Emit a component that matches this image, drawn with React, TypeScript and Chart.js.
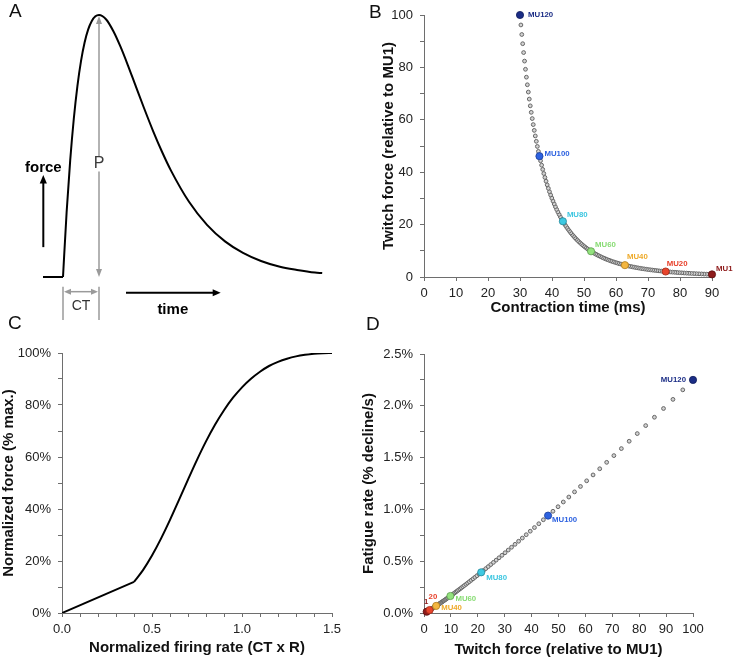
import React, { useEffect, useRef } from 'react';
import { Chart, registerables } from 'chart.js';

Chart.register(...registerables);

const FONT = '"Liberation Sans", Arial, Helvetica, sans-serif';
const AXIS_COLOR = '#6e6e6e';
const TICK_COLOR = '#222222';
const TITLE_COLOR = '#111111';

// ---------- Panel A : single twitch (normalized time t/CT, normalized force) ----------
const TWITCH_T = [0, 0.1, 0.2, 0.3, 0.4, 0.5, 0.6, 0.7, 0.8, 0.9, 1.0, 1.2, 1.4, 1.6, 1.8, 2.0, 2.25, 2.5, 2.75, 3.0, 3.5, 4.0, 4.5, 5.0, 5.5, 6.0, 6.5, 7.0, 7.2];
const TWITCH_F = [0, 0.246, 0.445, 0.604, 0.729, 0.824, 0.895, 0.945, 0.977, 0.995, 1.0, 0.983, 0.938, 0.878, 0.809, 0.736, 0.645, 0.558, 0.478, 0.406, 0.287, 0.199, 0.136, 0.092, 0.061, 0.04, 0.027, 0.017, 0.015];
const BASELINE_T = [-0.556, 0];
const BASELINE_F = [0, 0];

// ---------- Panels B & D : 120 motor units ----------
const TWITCH_FORCE = [
  1.00, 1.04, 1.08, 1.12, 1.17, 1.21, 1.26, 1.31, 1.36, 1.42,
  1.47, 1.53, 1.59, 1.65, 1.72, 1.79, 1.86, 1.93, 2.01, 2.09,
  2.17, 2.25, 2.34, 2.44, 2.53, 2.63, 2.74, 2.84, 2.96, 3.07,
  3.19, 3.32, 3.45, 3.59, 3.73, 3.87, 4.03, 4.19, 4.35, 4.52,
  4.70, 4.89, 5.08, 5.28, 5.49, 5.71, 5.93, 6.16, 6.41, 6.66,
  6.92, 7.20, 7.48, 7.78, 8.08, 8.40, 8.73, 9.08, 9.44, 9.81,
  10.20, 10.60, 11.02, 11.45, 11.90, 12.37, 12.86, 13.37, 13.90, 14.44,
  15.01, 15.61, 16.22, 16.86, 17.53, 18.22, 18.94, 19.68, 20.46, 21.27,
  22.11, 22.98, 23.89, 24.83, 25.81, 26.83, 27.89, 28.99, 30.13, 31.32,
  32.55, 33.84, 35.17, 36.56, 38.00, 39.50, 41.06, 42.68, 44.37, 46.12,
  47.94, 49.83, 51.79, 53.84, 55.96, 58.17, 60.47, 62.85, 65.33, 67.91,
  70.59, 73.37, 76.27, 79.28, 82.41, 85.66, 89.04, 92.55, 96.20, 100.00,
];
const CONTRACTION_TIME = [
  90.00, 89.17, 88.35, 87.54, 86.74, 85.94, 85.15, 84.37, 83.59, 82.82,
  82.06, 81.31, 80.56, 79.82, 79.09, 78.36, 77.64, 76.93, 76.22, 75.52,
  74.83, 74.14, 73.46, 72.78, 72.11, 71.45, 70.79, 70.14, 69.50, 68.86,
  68.23, 67.60, 66.98, 66.36, 65.75, 65.15, 64.55, 63.96, 63.37, 62.79,
  62.21, 61.64, 61.07, 60.51, 59.95, 59.40, 58.86, 58.32, 57.78, 57.25,
  56.72, 56.20, 55.69, 55.18, 54.67, 54.17, 53.67, 53.17, 52.69, 52.20,
  51.72, 51.25, 50.78, 50.31, 49.85, 49.39, 48.94, 48.49, 48.04, 47.60,
  47.16, 46.73, 46.30, 45.87, 45.45, 45.03, 44.62, 44.21, 43.80, 43.40,
  43.00, 42.61, 42.22, 41.83, 41.44, 41.06, 40.69, 40.31, 39.94, 39.57,
  39.21, 38.85, 38.49, 38.14, 37.79, 37.44, 37.10, 36.76, 36.42, 36.08,
  35.75, 35.42, 35.10, 34.78, 34.46, 34.14, 33.83, 33.51, 33.21, 32.90,
  32.60, 32.30, 32.00, 31.71, 31.42, 31.13, 30.84, 30.56, 30.28, 30.00,
];
const FATIGUE_RATE = [
  0.0125, 0.0131, 0.0136, 0.0142, 0.0149, 0.0155, 0.0162, 0.0170, 0.0177, 0.0185,
  0.0193, 0.0202, 0.0211, 0.0220, 0.0230, 0.0241, 0.0251, 0.0262, 0.0274, 0.0286,
  0.0299, 0.0313, 0.0326, 0.0341, 0.0356, 0.0372, 0.0389, 0.0406, 0.0424, 0.0443,
  0.0463, 0.0484, 0.0505, 0.0528, 0.0551, 0.0576, 0.0601, 0.0628, 0.0656, 0.0686,
  0.0716, 0.0748, 0.0781, 0.0816, 0.0853, 0.0891, 0.0930, 0.0972, 0.1015, 0.1061,
  0.1108, 0.1157, 0.1209, 0.1263, 0.1319, 0.1378, 0.1440, 0.1504, 0.1571, 0.1641,
  0.1714, 0.1790, 0.1870, 0.1954, 0.2041, 0.2132, 0.2227, 0.2326, 0.2430, 0.2539,
  0.2652, 0.2770, 0.2894, 0.3023, 0.3158, 0.3298, 0.3446, 0.3599, 0.3760, 0.3927,
  0.4103, 0.4286, 0.4477, 0.4676, 0.4885, 0.5103, 0.5330, 0.5568, 0.5817, 0.6076,
  0.6347, 0.6630, 0.6926, 0.7235, 0.7558, 0.7895, 0.8247, 0.8615, 0.8999, 0.9400,
  0.9820, 1.0258, 1.0715, 1.1193, 1.1692, 1.2214, 1.2759, 1.3328, 1.3922, 1.4543,
  1.5192, 1.5870, 1.6578, 1.7317, 1.8089, 1.8896, 1.9739, 2.0620, 2.1539, 2.2500,
];
const HIGHLIGHT_MU = [1, 20, 40, 60, 80, 100, 120];
const B_LABELS = ['MU1', 'MU20', 'MU40', 'MU60', 'MU80', 'MU100', 'MU120'];
const D_LABELS = ['1', '20', 'MU40', 'MU60', 'MU80', 'MU100', 'MU120'];

// ---------- Panel C : force-frequency relation ----------
const FIRING_RATE = [0, 0.4, 0.45, 0.5, 0.55, 0.6, 0.65, 0.7, 0.75, 0.8, 0.85, 0.9, 0.95, 1.0, 1.05, 1.1, 1.15, 1.2, 1.25, 1.3, 1.35, 1.4, 1.45, 1.5];
const NORMALIZED_FORCE = [0, 12.0, 16.5, 22.1, 28.6, 35.8, 43.5, 51.3, 58.9, 66.0, 72.4, 78.0, 82.8, 86.8, 90.1, 92.8, 95.0, 96.6, 97.8, 98.7, 99.3, 99.7, 99.9, 100];

// ---------- styles ----------
const HL_FILL = ['#8e1b1b', '#e8452c', '#f3b640', '#93e27e', '#3ec9e2', '#2d62e0', '#1b2d86'];
const HL_BORDER = ['#5a1010', '#a02a18', '#b07c1c', '#5c9c4c', '#23899b', '#1a3d99', '#0f1c5a'];
const HL_TEXT = ['#8e1b1b', '#e8402a', '#eeaa2a', '#88dc74', '#3cc6e0', '#2d62e0', '#1b2d86'];
const B_LABEL_OFFSETS: [number, number, CanvasTextAlign][] = [
  [4, -6, 'left'], [1, -8, 'left'], [2, -8, 'left'], [4, -6, 'left'], [4, -6, 'left'], [5, -2, 'left'], [8, 0, 'left'],
];
const D_LABEL_OFFSETS: [number, number, CanvasTextAlign][] = [
  [-0.5, -9.5, 'center'], [-1, -13, 'left'], [5, 2, 'left'], [5, 3, 'left'], [5, 6, 'left'], [4, 4.5, 'left'], [-7, 0, 'right'],
];

function axis(o: any) {
  const horizontal = o.horizontal;
  return {
    type: 'linear',
    min: o.min,
    max: o.max,
    afterFit: (s: any) => {
      if (horizontal) s.height = o.size;
      else s.width = o.size;
    },
    border: { display: true, color: AXIS_COLOR, width: 1 },
    grid: { display: true, drawOnChartArea: false, drawTicks: true, tickLength: 4, color: AXIS_COLOR, lineWidth: 1 },
    ticks: {
      stepSize: o.step,
      autoSkip: false,
      maxRotation: 0,
      minRotation: 0,
      padding: o.tickPad,
      color: TICK_COLOR,
      font: { family: FONT, size: 13 },
      callback: o.fmt,
    },
    title: {
      display: true,
      text: o.title,
      color: TITLE_COLOR,
      font: { family: FONT, size: 15, weight: 'bold' },
      padding: horizontal ? { top: 0, bottom: o.titlePad } : { top: o.titlePad, bottom: 0 },
    },
  };
}

const isMult = (v: number, m: number) => Math.abs(v / m - Math.round(v / m)) < 1e-6;

function muLabelPlugin(texts: string[], offsets: [number, number, CanvasTextAlign][]) {
  return {
    id: 'muLabels',
    afterDatasetsDraw(chart: any) {
      const meta = chart.getDatasetMeta(0);
      const ctx = chart.ctx;
      ctx.save();
      ctx.font = `bold 7.8px ${FONT}`;
      ctx.textBaseline = 'middle';
      meta.data.forEach((pt: any, k: number) => {
        const [dx, dy, align] = offsets[k];
        ctx.textAlign = align;
        ctx.fillStyle = HL_TEXT[k];
        ctx.fillText(texts[k], pt.x + dx, pt.y + dy);
      });
      ctx.restore();
    },
  };
}

function muDatasets(xs: number[], ys: number[]) {
  return [
    {
      label: 'highlighted',
      data: HIGHLIGHT_MU.map((m) => ({ x: xs[m - 1], y: ys[m - 1] })),
      pointRadius: 3.6,
      pointBackgroundColor: HL_FILL,
      pointBorderColor: HL_BORDER,
      pointBorderWidth: 0.8,
      clip: false,
    },
    {
      label: 'all units',
      data: xs.map((x, i) => ({ x, y: ys[i] })),
      pointRadius: 1.9,
      pointBackgroundColor: '#d2d2d2',
      pointBorderColor: '#666666',
      pointBorderWidth: 1,
      clip: false,
    },
  ];
}

const baseOptions = {
  responsive: false,
  animation: false,
  events: [],
  plugins: { legend: { display: false }, tooltip: { enabled: false } },
};

// ---------- annotations for panel A (data space) ----------
function arrowHead(ctx: any, tx: number, ty: number, ux: number, uy: number, len: number, hw: number, color: string) {
  const px = -uy, py = ux;
  ctx.beginPath();
  ctx.moveTo(tx, ty);
  ctx.lineTo(tx - ux * len + px * hw, ty - uy * len + py * hw);
  ctx.lineTo(tx - ux * len - px * hw, ty - uy * len - py * hw);
  ctx.closePath();
  ctx.fillStyle = color;
  ctx.fill();
}
function arrow(ctx: any, x1: number, y1: number, x2: number, y2: number, color: string, width: number, len: number, hw: number, both: boolean) {
  const d = Math.hypot(x2 - x1, y2 - y1);
  const ux = (x2 - x1) / d, uy = (y2 - y1) / d;
  ctx.strokeStyle = color;
  ctx.lineWidth = width;
  ctx.beginPath();
  ctx.moveTo(both ? x1 + ux * len * 0.7 : x1, both ? y1 + uy * len * 0.7 : y1);
  ctx.lineTo(x2 - ux * len * 0.7, y2 - uy * len * 0.7);
  ctx.stroke();
  arrowHead(ctx, x2, y2, ux, uy, len, hw, color);
  if (both) arrowHead(ctx, x1, y1, -ux, -uy, len, hw, color);
}

const twitchAnnotations = {
  id: 'twitchAnnotations',
  afterDatasetsDraw(chart: any) {
    const ctx = chart.ctx;
    const X = (v: number) => chart.scales.x.getPixelForValue(v);
    const Y = (v: number) => chart.scales.y.getPixelForValue(v);
    const gray = '#9a9a9a';
    ctx.save();
    // P : peak amplitude
    arrow(ctx, X(1), Y(0.996), X(1), Y(0), gray, 1.5, 8, 3, true);
    ctx.fillStyle = '#ffffff';
    ctx.fillRect(X(1) - 5.5, Y(0.46), 11, 15);
    ctx.font = `16px ${FONT}`;
    ctx.textAlign = 'center';
    ctx.textBaseline = 'alphabetic';
    ctx.fillStyle = '#3a3a3a';
    ctx.fillText('P', X(1), Y(0.415));
    // CT : contraction time bracket
    ctx.strokeStyle = gray;
    ctx.lineWidth = 1.5;
    [0, 1].forEach((t) => {
      ctx.beginPath();
      ctx.moveTo(X(t), Y(-0.037));
      ctx.lineTo(X(t), Y(-0.17));
      ctx.stroke();
    });
    arrow(ctx, X(0) + 1, Y(-0.056), X(1) - 1, Y(-0.056), gray, 1.5, 7, 3, true);
    ctx.font = `14px ${FONT}`;
    ctx.fillStyle = '#333333';
    ctx.fillText('CT', X(0.5), Y(-0.126));
    // force axis arrow
    arrow(ctx, X(-0.547), Y(0.114), X(-0.547), Y(0.389), '#000000', 2, 8.5, 3.6, false);
    ctx.font = `bold 15px ${FONT}`;
    ctx.fillStyle = '#000000';
    ctx.fillText('force', X(-0.547), Y(0.402));
    // time axis arrow
    arrow(ctx, X(1.75), Y(-0.06), X(4.38), Y(-0.06), '#000000', 2, 8, 3.5, false);
    ctx.fillText('time', X(3.05), Y(-0.141));
    ctx.restore();
  },
};

function makeA() {
  return {
    type: 'line',
    data: {
      datasets: [
        {
          label: 'twitch',
          data: TWITCH_T.map((t, i) => ({ x: t, y: TWITCH_F[i] })),
          borderColor: '#000000',
          borderWidth: 2,
          pointRadius: 0,
          cubicInterpolationMode: 'monotone',
          fill: false,
        },
        {
          label: 'baseline',
          data: BASELINE_T.map((t, i) => ({ x: t, y: BASELINE_F[i] })),
          borderColor: '#000000',
          borderWidth: 2,
          pointRadius: 0,
          fill: false,
        },
      ],
    },
    options: {
      ...baseOptions,
      layout: { padding: 0 },
      scales: {
        x: { type: 'linear', display: false, min: -1.75, max: 8.25 },
        y: { type: 'linear', display: false, min: -0.1641, max: 1.0573 },
      },
    },
    plugins: [twitchAnnotations],
  };
}

function makeB() {
  return {
    type: 'scatter',
    data: { datasets: muDatasets(CONTRACTION_TIME, TWITCH_FORCE) },
    options: {
      ...baseOptions,
      layout: { padding: { top: 15, right: 21, left: 0, bottom: 0 } },
      scales: {
        x: axis({ horizontal: true, min: 0, max: 90, step: 10, size: 43, tickPad: 5, titlePad: 3, title: 'Contraction time (ms)', fmt: (v: number) => String(v) }),
        y: axis({ horizontal: false, min: 0, max: 100, step: 10, size: 64, tickPad: 7, titlePad: 20, title: 'Twitch force (relative to MU1)', fmt: (v: number) => (isMult(v, 20) ? String(v) : '') }),
      },
    },
    plugins: [muLabelPlugin(B_LABELS, B_LABEL_OFFSETS)],
  };
}

function makeC() {
  const pts = FIRING_RATE.map((x, i) => ({ x, y: NORMALIZED_FORCE[i] }));
  return {
    type: 'line',
    data: {
      datasets: [
        { label: 'linear summation', data: pts.slice(0, 2), borderColor: '#000000', borderWidth: 2, pointRadius: 0, tension: 0, fill: false },
        { label: 'sigmoid', data: pts.slice(1), borderColor: '#000000', borderWidth: 2, pointRadius: 0, cubicInterpolationMode: 'monotone', fill: false },
      ],
    },
    options: {
      ...baseOptions,
      layout: { padding: { top: 33, right: 28, left: 0, bottom: 0 } },
      scales: {
        x: axis({ horizontal: true, min: 0, max: 1.5, step: 0.1, size: 46, tickPad: 5, titlePad: 2, title: 'Normalized firing rate (CT x R)', fmt: (v: number) => (isMult(v, 0.5) ? v.toFixed(1) : '') }),
        y: axis({ horizontal: false, min: 0, max: 100, step: 10, size: 62, tickPad: 7, titlePad: 0, title: 'Normalized force (% max.)', fmt: (v: number) => (isMult(v, 20) ? v + '%' : '') }),
      },
    },
  };
}

function makeD() {
  return {
    type: 'scatter',
    data: { datasets: muDatasets(TWITCH_FORCE, FATIGUE_RATE) },
    options: {
      ...baseOptions,
      layout: { padding: { top: 34, right: 40, left: 0, bottom: 0 } },
      scales: {
        x: axis({ horizontal: true, min: 0, max: 100, step: 10, size: 46, tickPad: 5, titlePad: 0, title: 'Twitch force (relative to MU1)', fmt: (v: number) => String(v) }),
        y: axis({ horizontal: false, min: 0, max: 2.5, step: 0.25, size: 64, tickPad: 7, titlePad: 0, title: 'Fatigue rate (% decline/s)', fmt: (v: number) => (isMult(v, 0.5) ? v.toFixed(1) + '%' : '') }),
      },
    },
    plugins: [muLabelPlugin(D_LABELS, D_LABEL_OFFSETS)],
  };
}

function ChartCanvas({ left, top, width, height, make }: any) {
  const ref = useRef<HTMLCanvasElement>(null);
  useEffect(() => {
    const chart = new Chart(ref.current as HTMLCanvasElement, make());
    return () => chart.destroy();
  }, []);
  return <canvas ref={ref} width={width} height={height} style={{ position: 'absolute', left, top, width, height }} />;
}

function PanelLetter({ left, top, text }: any) {
  return (
    <div style={{ position: 'absolute', left, top, fontFamily: FONT, fontSize: 19, lineHeight: '19px', color: '#111' }}>{text}</div>
  );
}

export default function App() {
  return (
    <div style={{ position: 'absolute', left: 0, top: 0, width: 733, height: 659, background: '#ffffff', overflow: 'hidden' }}>
      <ChartCanvas left={0} top={0} width={360} height={320} make={makeA} />
      <ChartCanvas left={360} top={0} width={373} height={320} make={makeB} />
      <ChartCanvas left={0} top={320} width={360} height={339} make={makeC} />
      <ChartCanvas left={360} top={320} width={373} height={339} make={makeD} />
      <PanelLetter left={9} top={0.7} text="A" />
      <PanelLetter left={369} top={2.2} text="B" />
      <PanelLetter left={8} top={313.4} text="C" />
      <PanelLetter left={366} top={314} text="D" />
    </div>
  );
}
